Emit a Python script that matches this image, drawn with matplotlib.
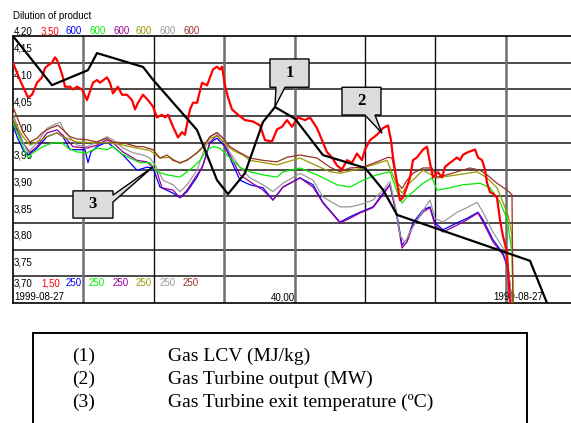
import numpy as np
import matplotlib.pyplot as plt
from matplotlib.patches import Polygon, Rectangle

# hours from start of 1999-08-27
lcv_t = [0, 5.54, 10.65, 11.93, 18.47, 19.89, 26.14, 28.98, 30.54, 32.95, 35.51, 37.22,
         40.06, 44.03, 50.0, 52.56, 54.55, 73.44, 75.85]
lcv = [4.200, 4.108, 4.136, 4.168, 4.142, 4.118, 4.024, 3.930, 3.904, 3.943, 4.039, 4.067,
       4.045, 3.977, 3.953, 3.912, 3.865, 3.779, 3.700]

out_t = [0, 0.99, 2.13, 2.70, 3.41, 4.12, 4.55, 4.97, 5.54, 5.97,
         6.25, 6.68, 7.10, 7.39, 8.10, 8.52, 9.09, 9.80, 10.51, 11.36,
         11.93, 12.36, 13.35, 13.78, 14.20, 14.91, 15.48, 16.19, 16.90, 17.33,
         17.76, 18.47, 19.18, 19.89, 20.45, 21.16, 21.59, 22.02, 22.73, 23.44,
         24.01, 24.43, 25.14, 25.57, 26.14, 26.85, 27.56, 28.41, 28.98, 29.40,
         29.69, 30.11, 30.54, 31.11, 31.96, 32.95, 34.09, 35.09, 35.80, 36.79,
         37.50, 38.21, 38.92, 39.63, 40.48, 41.48, 42.19, 43.18, 43.89, 44.60,
         45.31, 46.02, 46.73, 47.44, 48.15, 48.86, 49.57, 50.00, 50.71, 51.70,
         52.56, 53.27, 53.69, 53.98, 54.55, 54.97, 55.40, 55.97, 56.39, 56.82,
         57.39, 57.81, 58.24, 58.81, 59.23, 59.66, 60.37, 60.94, 61.36, 62.07,
         63.07, 63.49, 63.92, 64.63, 65.63, 66.05, 66.62, 67.05, 67.33, 67.76,
         68.18, 68.75, 69.18, 69.60, 70.17, 70.31, 70.60]
out_mw = [3.30, 3.17, 3.04, 3.06, 3.15, 3.19, 3.26, 3.28, 3.30, 3.34,
          3.32, 3.26, 3.19, 3.12, 3.12, 3.10, 3.12, 3.10, 3.02, 3.15,
          3.17, 3.15, 3.19, 3.15, 3.07, 3.12, 3.06, 3.06, 3.02, 2.95,
          3.00, 3.06, 3.02, 2.97, 2.89, 2.91, 2.89, 2.91, 2.82, 2.74,
          2.78, 2.76, 2.95, 3.00, 3.00, 3.15, 3.13, 3.25, 3.27, 3.25,
          3.27, 3.13, 3.04, 2.95, 2.91, 2.87, 2.86, 2.83, 2.72, 2.71,
          2.80, 2.82, 2.87, 2.82, 2.89, 2.87, 2.89, 2.81, 2.72, 2.63,
          2.59, 2.53, 2.50, 2.57, 2.55, 2.62, 2.57, 2.65, 2.72, 2.76,
          2.81, 2.83, 2.72, 2.59, 2.40, 2.27, 2.29, 2.37, 2.44, 2.57,
          2.59, 2.62, 2.65, 2.67, 2.55, 2.44, 2.48, 2.44, 2.52, 2.55,
          2.59, 2.57, 2.61, 2.63, 2.65, 2.59, 2.57, 2.50, 2.40, 2.33,
          2.32, 2.29, 2.12, 2.00, 1.88, 1.75, 1.50]

# exit temperatures (6 probes)
blue_t = [0, 0.57, 1.42, 2.13, 3.41, 4.83, 6.25, 7.10, 8.10, 10.23,
          10.65, 11.08, 11.93, 13.35, 14.20, 15.63, 17.61, 19.03, 19.89, 20.88,
          22.73, 23.72, 24.72, 26.14, 26.99, 27.98, 28.98, 30.11, 31.11, 32.24,
          33.66, 35.51, 36.93, 38.35, 40.77, 42.61, 44.03, 46.45, 47.87, 49.29,
          51.14, 52.56, 53.55, 54.55, 55.26, 55.97, 56.82, 58.24, 59.23, 59.94,
          61.08, 63.07, 64.49, 66.05, 66.76, 68.18, 69.60, 70.31, 70.88]
blue = [483, 468, 451, 444, 453, 468, 473, 468, 451, 451,
        434, 448, 455, 461, 455, 444, 424, 428, 427, 402,
        394, 388, 396, 415, 431, 460, 466, 455, 434, 411,
        405, 401, 385, 402, 414, 405, 382, 356, 363, 369,
        376, 394, 405, 365, 326, 333, 355, 372, 376, 355,
        346, 355, 361, 369, 359, 333, 315, 297, 250]

purple_t = [0, 0.57, 1.42, 2.41, 3.41, 4.83, 6.25, 7.10, 8.52, 10.51,
            11.93, 13.35, 14.20, 15.63, 17.61, 19.03, 20.45, 21.16, 22.73, 23.72,
            24.72, 26.14, 26.85, 27.98, 28.98, 29.83, 30.82, 32.24, 33.66, 35.51,
            36.93, 38.35, 40.77, 42.61, 44.03, 46.45, 47.87, 49.29, 51.14, 52.56,
            53.55, 54.55, 55.26, 55.97, 56.82, 58.24, 59.23, 59.94, 61.08, 63.07,
            64.49, 66.05, 66.76, 68.18, 69.60, 70.31, 70.88]
purple = [490, 477, 460, 447, 455, 473, 477, 470, 455, 453,
          457, 464, 460, 448, 437, 435, 422, 401, 398, 388,
          398, 418, 427, 461, 470, 461, 444, 418, 409, 398,
          385, 402, 414, 402, 381, 355, 361, 368, 375, 392,
          405, 361, 322, 330, 352, 369, 375, 352, 343, 352,
          359, 368, 356, 330, 313, 296, 250]

gray_t = [0, 0.57, 1.42, 2.13, 3.41, 4.83, 5.68, 6.68, 7.39, 9.09,
          10.51, 11.93, 13.35, 14.20, 15.63, 17.05, 18.47, 19.46, 20.45, 21.31,
          22.73, 23.72, 24.72, 26.14, 26.99, 27.98, 28.98, 29.83, 30.82, 32.24,
          33.66, 35.51, 36.93, 38.35, 40.77, 42.61, 44.03, 46.45, 47.87, 49.29,
          51.14, 52.56, 53.55, 54.26, 54.97, 55.68, 56.39, 57.81, 59.23, 59.94,
          61.08, 63.07, 64.49, 65.91, 66.76, 68.18, 69.60, 70.31, 70.88]
gray = [499, 483, 461, 447, 460, 479, 483, 487, 474, 457,
        455, 461, 468, 464, 453, 447, 444, 440, 427, 411,
        405, 396, 405, 424, 447, 468, 474, 466, 447, 428,
        414, 405, 396, 407, 420, 411, 389, 376, 376, 379,
        385, 398, 409, 379, 339, 329, 343, 365, 385, 361,
        356, 369, 375, 382, 369, 343, 322, 300, 250]

green_t = [0, 0.57, 1.42, 2.13, 2.84, 4.26, 5.68, 6.96, 7.81, 9.09,
           10.51, 11.93, 13.35, 14.20, 15.20, 16.62, 18.04, 19.46, 20.45, 21.88,
           23.72, 24.72, 25.57, 26.56, 27.56, 28.41, 29.40, 30.82, 32.24, 33.66,
           35.51, 37.50, 38.35, 40.77, 43.18, 46.02, 47.87, 49.72, 51.70, 53.55,
           54.55, 55.26, 55.97, 58.24, 59.52, 60.23, 62.07, 63.92, 66.34, 67.76,
           69.18, 70.17, 70.88, 71.02]
green = [486, 474, 455, 440, 447, 455, 460, 460, 453, 448,
         447, 453, 451, 455, 447, 440, 434, 434, 422, 418,
         415, 422, 428, 437, 451, 455, 453, 440, 428, 422,
         418, 415, 422, 427, 418, 405, 402, 411, 418, 422,
         396, 381, 389, 407, 414, 398, 401, 405, 407, 401,
         382, 361, 317, 250]

olive_t = [0, 0.57, 1.42, 2.41, 3.41, 4.83, 6.25, 7.10, 9.09, 11.93,
           13.78, 15.63, 17.61, 19.46, 20.88, 22.30, 23.72, 25.14, 26.56, 27.98,
           28.98, 29.83, 31.25, 32.67, 33.66, 37.50, 40.77, 45.03, 46.45, 49.72,
           53.13, 54.55, 55.26, 55.97, 58.24, 60.23, 63.07, 65.91, 67.33, 68.75,
           69.60, 70.31, 70.88, 71.02]
olive = [492, 481, 468, 457, 461, 468, 473, 468, 461, 460,
         460, 457, 453, 450, 440, 441, 433, 440, 450, 466,
         469, 461, 450, 444, 437, 431, 440, 422, 420, 427,
         437, 404, 394, 404, 424, 414, 418, 422, 414, 401,
         382, 365, 339, 250]

brown_t = [0, 0.57, 1.42, 2.41, 3.41, 4.26, 5.26, 6.39, 7.10, 8.10,
           9.09, 10.51, 11.93, 13.35, 14.20, 15.63, 17.61, 18.47, 19.89, 20.88,
           21.88, 22.73, 23.72, 24.72, 26.14, 26.99, 27.98, 28.98, 29.83, 30.82,
           32.24, 33.66, 35.51, 37.50, 38.92, 40.77, 43.18, 45.03, 46.45, 47.87,
           49.72, 51.70, 53.27, 53.84, 54.55, 55.26, 55.97, 56.82, 58.24, 59.52,
           60.23, 61.65, 63.07, 64.91, 66.34, 67.33, 68.75, 70.17, 70.88, 71.02]
brown = [507, 494, 474, 461, 466, 474, 479, 483, 477, 468,
         465, 464, 461, 466, 461, 460, 455, 455, 451, 440,
         444, 437, 434, 437, 447, 455, 468, 473, 466, 455,
         447, 440, 437, 435, 441, 444, 440, 428, 422, 427,
         428, 435, 441, 440, 408, 400, 411, 420, 427, 427,
         415, 418, 422, 427, 424, 418, 407, 398, 392, 250]

scale_top = ['4,20', '3,50', '600', '600', '600', '600', '600', '600']
scale_bot = ['3,70', '1,50', '250', '250', '250', '250', '250', '250']
lcv_labels = ['4,15', '4,10', '4,05', '4,00', '3,95', '3,90', '3,85', '3,80', '3,75']
lcv_label_vals = [4.15, 4.10, 4.05, 4.00, 3.95, 3.90, 3.85, 3.80, 3.75]
legend_nums = ['(1)', '(2)', '(3)']
legend_names = ['Gas LCV (MJ/kg)', 'Gas Turbine output (MW)', 'Gas Turbine exit temperature (ºC)']

c_red = '#ff0000'
c_blue = '#0000ff'
c_green = '#00ee00'
c_purple = '#990099'
c_olive = '#999900'
c_gray = '#999999'
c_brown = '#993322'
scale_colors = ['black', c_red, c_blue, c_green, c_purple, c_olive, c_gray, c_brown]

plt.rcParams['font.family'] = ['Liberation Sans', 'DejaVu Sans']

W, H = 571, 423
fig = plt.figure(figsize=(W / 100, H / 100), dpi=100)

def fx(px):
    return px / W

def fy(py):
    return 1 - py / H

left, right, top, bot = 13, 13 + 8 * 70.4, 36, 303
ax = fig.add_axes([fx(left), fy(bot), (right - left) / W, (bot - top) / H])
ax.set_xlim(0, 80)
ax.set_ylim(3.70, 4.20)
ax.set_xticks([])
ax.set_yticks([])
for s in ['top', 'left', 'bottom']:
    ax.spines[s].set_color('black')
    ax.spines[s].set_linewidth(1.2)
ax.spines['right'].set_visible(False)

for v in np.arange(3.75, 4.19, 0.05):
    ax.axhline(v, color='#1a1a1a', lw=1.1, zorder=1)
vcol = {10: ('#6e6e6e', 1.8), 20: ('#111111', 1.0), 30: ('#6e6e6e', 1.8), 40: ('#6e6e6e', 1.8),
        50: ('#111111', 1.0), 60: ('#111111', 1.0), 70: ('#6e6e6e', 1.8)}
for xv, (c, lw) in vcol.items():
    ax.axvline(xv, color=c, lw=lw, zorder=1)

# scale labels inside the chart
for lab, v in zip(lcv_labels, lcv_label_vals):
    ax.text(0.15, v + 0.026, lab, fontsize=7, va='center', ha='left')
ax.text(0.15, 3.711, '1999-08-27', fontsize=7, va='center', ha='left')
ax.text(40, 3.711, '40,00', fontsize=7, va='center', ha='right')
ax.text(75.3, 3.711, '1999-08-27', fontsize=7, va='center', ha='right')

hdr_x = [14, 41, 66, 89, 113, 136, 160, 183]
for px, t1, t2, c in zip(hdr_x, scale_top, scale_bot, scale_colors):
    fig.text(fx(px), fy(31), t1, color=c, fontsize=7, va='center', ha='left')
    fig.text(fx(px), fy(283), t2, color=c, fontsize=7, va='center', ha='left')
fig.text(fx(13), fy(16), 'Dilution of product', fontsize=7, va='center', ha='left')

# exit temperature scale 250..600
ax_t = ax.twinx()
ax_t.set_ylim(250, 600)
ax_t.axis('off')
ax_t.set_xlim(0, 80)
for tt, vv, c in [(blue_t, blue, c_blue), (purple_t, purple, c_purple), (gray_t, gray, c_gray),
                  (green_t, green, c_green), (olive_t, olive, c_olive), (brown_t, brown, c_brown)]:
    ax_t.plot(tt, vv, color=c, lw=0.9)

# output scale 1.50..3.50
ax_mw = ax.twinx()
ax_mw.set_ylim(1.50, 3.50)
ax_mw.axis('off')
ax_mw.set_xlim(0, 80)
ax_mw.plot(out_t, out_mw, color=c_red, lw=1.6)

# LCV on top
ax_l = ax.twinx()
ax_l.set_ylim(3.70, 4.20)
ax_l.axis('off')
ax_l.set_xlim(0, 80)
ax_l.plot(lcv_t, lcv, color='black', lw=1.6)

callouts = [
    ('1', [(36.5, 4.157), (42.05, 4.157), (42.05, 4.104), (38.64, 4.104), (37.2, 4.067),
           (37.36, 4.104), (36.5, 4.104)], (39.27, 4.130)),
    ('2', [(46.73, 4.104), (52.27, 4.104), (52.27, 4.052), (51.42, 4.052), (52.41, 4.018),
           (50.0, 4.052), (46.73, 4.052)], (49.5, 4.078)),
    ('3', [(8.52, 3.910), (14.2, 3.910), (14.2, 3.902), (19.89, 3.955), (14.2, 3.889),
           (14.2, 3.859), (8.52, 3.859)], (11.36, 3.8845)),
]
for lab, pts, ctr in callouts:
    ax_l.add_patch(Polygon(pts, closed=True, facecolor='#dcdcdc', edgecolor='black',
                           lw=1.0, zorder=5))
    ax_l.text(ctr[0], ctr[1], lab, fontsize=12, fontweight='bold', family='Liberation Serif',
              ha='center', va='center', zorder=6)

# legend box below chart
fig.add_artist(Rectangle((fx(33), fy(440)), (527 - 33) / W, (440 - 333) / H,
                         transform=fig.transFigure, fill=False, edgecolor='black', lw=1.4))
for i, (n, name) in enumerate(zip(legend_nums, legend_names)):
    y = 356 + 23 * i
    fig.text(fx(72), fy(y), n, fontsize=14, family='Liberation Serif', va='center')
    fig.text(fx(168), fy(y), name, fontsize=14, family='Liberation Serif', va='center')

fig.savefig('out.png', dpi=100)
